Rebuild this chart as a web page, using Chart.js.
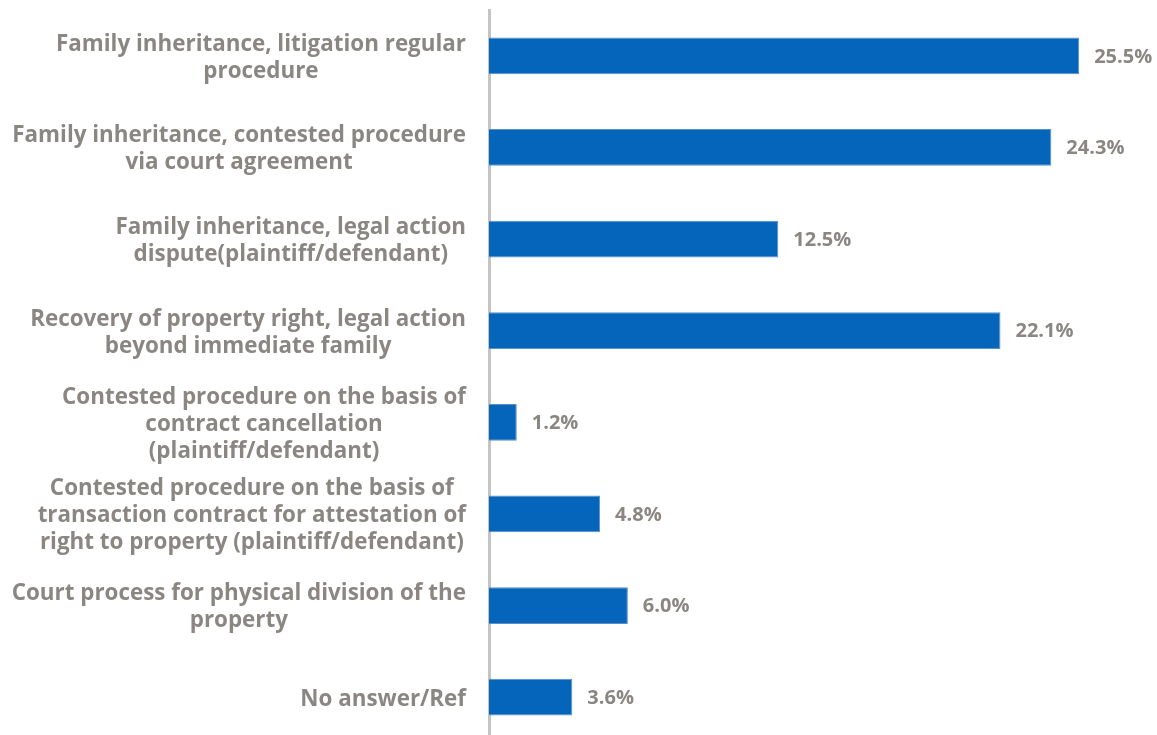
<!DOCTYPE html>
<html>
<head>
<meta charset="utf-8">
<script src="https://cdn.jsdelivr.net/npm/chart.js@4"></script>
<style>
  html, body { margin: 0; padding: 0; background: #fff; overflow: hidden; }
  #wrap { position: relative; width: 1157px; height: 745px; }
</style>
</head>
<body>
<div id="wrap"><canvas id="court_chart"></canvas></div>
<script>
// category labels, one array of lines per bar
const categories = [
  ["Family inheritance, litigation regular", "procedure"],
  ["Family inheritance, contested procedure", "via court agreement"],
  ["Family inheritance, legal action", "dispute(plaintiff/defendant)"],
  ["Recovery of property right, legal action", "beyond immediate family"],
  ["Contested procedure on the basis of", "contract cancellation", "(plaintiff/defendant)"],
  ["Contested procedure on the basis of", "transaction contract for attestation of", "right to property (plaintiff/defendant)"],
  ["Court process for physical division of the", "property"],
  ["No answer/Ref"]
];
const shares = [25.5, 24.3, 12.5, 22.1, 1.2, 4.8, 6.0, 3.6];

const labelColor = "#8a8782";
const labelFont = "bold 22.4px 'Open Sans'";
const valueFont = "bold 20px 'Open Sans'";

// multi-line category labels: each block right-aligned, lines centered inside it
const categoryLabels = {
  id: "categoryLabels",
  afterDraw(chart) {
    const ctx = chart.ctx;
    const yScale = chart.scales.y;
    const right = 466;
    const lineH = 27;
    ctx.save();
    ctx.font = labelFont;
    ctx.fillStyle = labelColor;
    ctx.textAlign = "center";
    ctx.textBaseline = "middle";
    categories.forEach((lines, i) => {
      const widest = Math.max(...lines.map(l => ctx.measureText(l).width));
      const cx = right - widest / 2;
      const cy = yScale.getPixelForValue(i) + 2;
      const top = cy - (lines.length - 1) * lineH / 2;
      lines.forEach((l, j) => ctx.fillText(l, cx, top + j * lineH));
    });
    ctx.restore();
  }
};

// value labels at the end of each bar
const valueLabels = {
  id: "valueLabels",
  afterDatasetsDraw(chart) {
    const ctx = chart.ctx;
    const meta = chart.getDatasetMeta(0);
    ctx.save();
    ctx.font = valueFont;
    ctx.fillStyle = labelColor;
    ctx.textAlign = "left";
    ctx.textBaseline = "middle";
    meta.data.forEach((bar, i) => {
      ctx.fillText(shares[i].toFixed(1) + "%", bar.x + 15, bar.y + 1);
    });
    ctx.restore();
  }
};

new Chart(document.getElementById("court_chart"), {
  type: "bar",
  data: {
    labels: categories.map(l => l.join(" ")),
    datasets: [{
      data: shares,
      backgroundColor: "#0565BA",
      borderColor: "#5a8fcb",
      borderWidth: 1,
      barPercentage: 0.4,
      categoryPercentage: 1
    }]
  },
  options: {
    indexAxis: "y",
    responsive: true,
    maintainAspectRatio: false,
    animation: false,
    layout: {
      padding: { left: 489, right: 20, top: 10, bottom: 2 }
    },
    plugins: {
      legend: { display: false },
      tooltip: { enabled: false }
    },
    scales: {
      x: {
        display: false,
        min: 0,
        max: 28
      },
      y: {
        grid: { display: false, drawTicks: false },
        ticks: { display: false },
        border: { display: true, color: "#c4c4c4", width: 3 }
      }
    }
  },
  plugins: [categoryLabels, valueLabels]
});
</script>
</body>
</html>
